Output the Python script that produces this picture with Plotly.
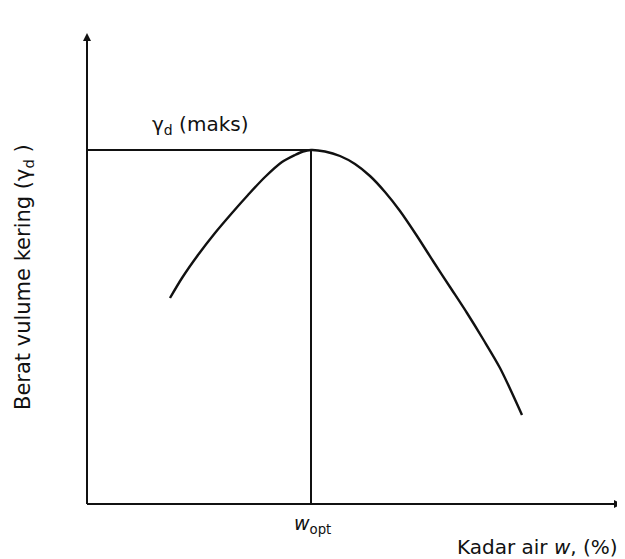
import plotly.graph_objects as go

# moisture content (arbitrary units) and dry unit weight (arbitrary units)
kadar_air = [8.3, 9.5, 11.1, 12.8, 14.5, 16.1, 17.8, 19.5, 20.8, 21.6, 22.4, 23.8, 25.3,
             26.8, 28.3, 29.8, 31.3, 33.0, 34.6, 36.3, 38.0, 39.6, 41.3, 43.5]
berat_kering = [20.6, 22.6, 24.9, 27.1, 29.1, 30.9, 32.7, 34.2, 34.9, 35.25, 35.4, 35.25, 34.8,
                34.0, 32.8, 31.2, 29.3, 26.8, 24.3, 21.7, 19.1, 16.5, 13.6, 8.9]
w_opt = 22.4
gamma_maks = 35.4
x_max = 53.5
y_max = 47.1

INK = "#111111"
FONT = "DejaVu Sans, Verdana, sans-serif"

fig = go.Figure()

fig.add_trace(go.Scatter(
    x=kadar_air, y=berat_kering, mode="lines",
    line=dict(color=INK, width=2.4, shape="spline", smoothing=0.8),
    hoverinfo="skip", showlegend=False
))

# axes
fig.add_shape(type="line", x0=0, y0=0, x1=x_max - 0.5, y1=0, line=dict(color=INK, width=2))
fig.add_shape(type="line", x0=0, y0=0, x1=0, y1=y_max - 0.5, line=dict(color=INK, width=2))
# gamma_d max and w_opt guide lines
fig.add_shape(type="line", x0=0, y0=gamma_maks, x1=w_opt, y1=gamma_maks, line=dict(color=INK, width=2))
fig.add_shape(type="line", x0=w_opt, y0=0, x1=w_opt, y1=gamma_maks, line=dict(color=INK, width=2))

# arrow heads
fig.add_annotation(x=x_max, y=0, ax=x_max - 1.5, ay=0, xref="x", yref="y", axref="x", ayref="y",
                   text="", showarrow=True, arrowhead=2, arrowsize=1, arrowwidth=1.6, arrowcolor=INK)
fig.add_annotation(x=0, y=y_max, ax=0, ay=y_max - 1.5, xref="x", yref="y", axref="x", ayref="y",
                   text="", showarrow=True, arrowhead=2, arrowsize=1, arrowwidth=1.6, arrowcolor=INK)

# labels
fig.add_annotation(x=11.3, y=37.9, text="γ<sub>d</sub> (maks)", showarrow=False,
                   font=dict(family=FONT, size=20, color=INK))
fig.add_annotation(x=22.5, y=-2.0, text="<i>w</i><sub>opt</sub>", showarrow=False,
                   font=dict(family=FONT, size=19, color=INK))
fig.add_annotation(x=45.0, y=-4.3, text="Kadar air <i>w</i>, (%)", showarrow=False,
                   font=dict(family=FONT, size=20, color=INK))
fig.add_annotation(x=-6.3, y=22.7, text="Berat vulume kering (γ<sub>d</sub> )", textangle=-90,
                   showarrow=False, font=dict(family=FONT, size=21, color=INK))

# the page body adds an 8px margin, so the figure is 8px smaller and the ranges start 8px in
fig.update_xaxes(range=[-7.9, 53.8], visible=False)
fig.update_yaxes(range=[-5.5, 49.6], visible=False)
fig.update_layout(
    width=617, height=551, autosize=False,
    margin=dict(l=0, r=0, t=0, b=0),
    plot_bgcolor="white", paper_bgcolor="white",
)

fig.write_html("out.html")
